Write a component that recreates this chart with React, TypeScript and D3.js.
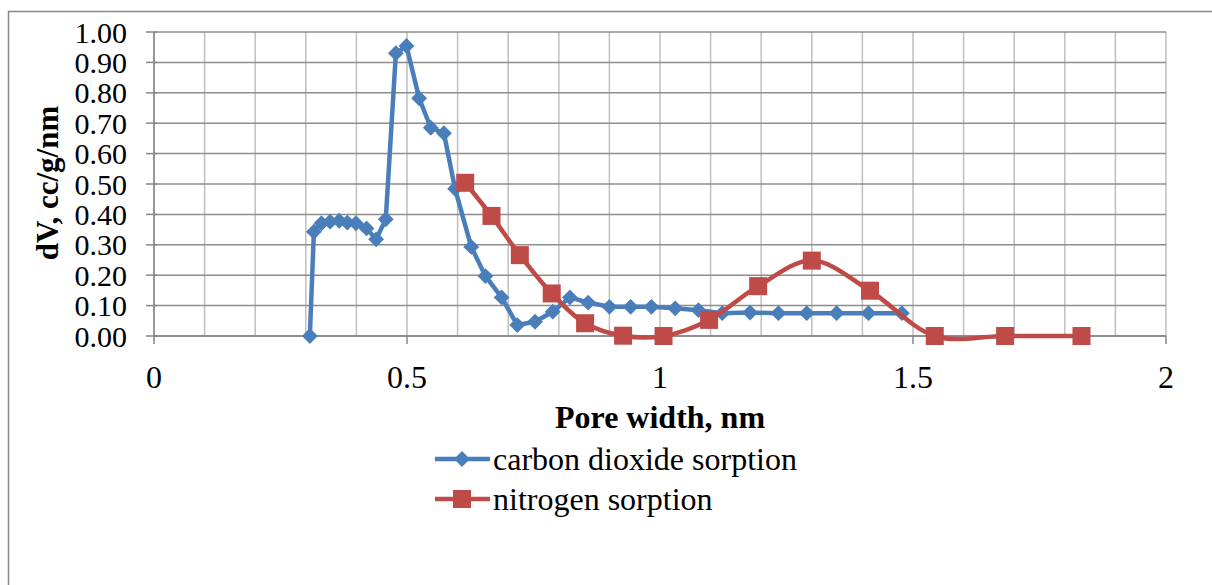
import React from 'react';
import * as d3 from 'd3';

// pore width (nm) and dV (cc/g/nm)
const co2Width = [0.308, 0.316, 0.331, 0.348, 0.366, 0.382, 0.399, 0.420, 0.439, 0.458, 0.478, 0.499,
  0.524, 0.547, 0.573, 0.595, 0.627, 0.655, 0.687, 0.718, 0.753, 0.788, 0.822, 0.858, 0.900, 0.942,
  0.983, 1.030, 1.076, 1.123, 1.178, 1.234, 1.290, 1.349, 1.412, 1.478];
const co2Dv = [0, 0.343, 0.371, 0.376, 0.379, 0.373, 0.371, 0.354, 0.318, 0.384, 0.930, 0.954,
  0.782, 0.685, 0.667, 0.484, 0.293, 0.197, 0.127, 0.036, 0.047, 0.080, 0.127, 0.110, 0.096, 0.096,
  0.096, 0.091, 0.085, 0.075, 0.077, 0.075, 0.075, 0.075, 0.075, 0.075];

const n2Width = [0.615, 0.667, 0.723, 0.786, 0.852, 0.927, 1.007, 1.097, 1.194, 1.300, 1.415, 1.543, 1.682, 1.833];
const n2Dv = [0.504, 0.395, 0.266, 0.140, 0.042, 0.001, 0, 0.053, 0.164, 0.248, 0.149, 0, 0, 0];

const xTicks = [0, 0.5, 1, 1.5, 2];
const yTicks = d3.range(0, 1.0001, 0.1);
const seriesNames = ['carbon dioxide sorption', 'nitrogen sorption'];

const BLUE = '#4A7EBB';
const RED = '#BE4B48';
const FONT = '"Liberation Serif", "Times New Roman", serif';

export default function App() {
  const width = 1212;
  const height = 585;
  const left = 154, right = 1166, top = 32, bottom = 336;

  const x = d3.scaleLinear().domain([0, 2]).range([left, right]);
  const y = d3.scaleLinear().domain([0, 1]).range([bottom, top]);

  const co2 = co2Width.map((w, i) => [w, co2Dv[i]] as [number, number]);
  const n2 = n2Width.map((w, i) => [w, n2Dv[i]] as [number, number]);

  const blueLine = d3.line<[number, number]>().x(d => x(d[0])).y(d => y(d[1]));
  const redLine = d3.line<[number, number]>().x(d => x(d[0])).y(d => y(d[1]))
    .curve(d3.curveCatmullRom.alpha(0.5));

  const diamond = d3.symbol().type(d3.symbolDiamond2).size(160)();
  const sq = 18;

  const minorX = d3.range(0, 2.0001, 0.1);

  return (
    <svg width={width} height={height} style={{ position: 'absolute', left: 0, top: 0 }}
      fontFamily={FONT}>
      <rect x={0} y={0} width={width} height={height} fill="#fff" />
      {/* outer chart border */}
      <rect x={8.5} y={11.5} width={width + 10} height={height + 10} fill="none" stroke="#868686" strokeWidth={1.5} />

      {/* gridlines */}
      {minorX.map((v, i) => (
        <line key={'vx' + i} x1={x(v)} x2={x(v)} y1={top} y2={bottom} stroke="#BFBFBF" strokeWidth={1.5} />
      ))}
      {yTicks.map((v, i) => (
        <line key={'hy' + i} x1={left} x2={right} y1={y(v)} y2={y(v)} stroke="#8C8C8C" strokeWidth={1.5} />
      ))}

      {/* axes */}
      <line x1={left} x2={left} y1={top} y2={bottom} stroke="#868686" strokeWidth={1.5} />
      <line x1={left} x2={right} y1={bottom} y2={bottom} stroke="#868686" strokeWidth={1.5} />
      {yTicks.map((v, i) => (
        <line key={'yt' + i} x1={left - 8} x2={left + 3} y1={y(v)} y2={y(v)} stroke="#868686" strokeWidth={1.5} />
      ))}
      {xTicks.map((v, i) => (
        <line key={'xt' + i} x1={x(v)} x2={x(v)} y1={bottom} y2={bottom + 8} stroke="#868686" strokeWidth={1.5} />
      ))}

      {yTicks.map((v, i) => (
        <text key={'yl' + i} x={127} y={y(v)} dy="0.35em" textAnchor="end" fontSize={30}>
          {d3.format('.2f')(v)}
        </text>
      ))}
      {xTicks.map((v, i) => (
        <text key={'xl' + i} x={x(v)} y={388} textAnchor="middle" fontSize={32}>
          {String(v)}
        </text>
      ))}

      <text x={660} y={428} textAnchor="middle" fontSize={32} fontWeight="bold">Pore width, nm</text>
      <text transform="translate(58,183) rotate(-90)" textAnchor="middle" fontSize={31} fontWeight="bold">
        dV, cc/g/nm
      </text>

      {/* series */}
      <path d={blueLine(co2) || ''} fill="none" stroke={BLUE} strokeWidth={4.5} strokeLinejoin="round" />
      {co2.map((d, i) => (
        <path key={'cm' + i} d={diamond || ''} transform={`translate(${x(d[0])},${y(d[1])})`} fill={BLUE} />
      ))}
      <path d={redLine(n2) || ''} fill="none" stroke={RED} strokeWidth={4.5} strokeLinejoin="round" />
      {n2.map((d, i) => (
        <rect key={'nm' + i} x={x(d[0]) - sq / 2} y={y(d[1]) - sq / 2} width={sq} height={sq} fill={RED} />
      ))}

      {/* legend */}
      <g>
        <line x1={435} x2={490} y1={459} y2={459} stroke={BLUE} strokeWidth={4.5} />
        <path d={diamond || ''} transform="translate(462,459)" fill={BLUE} />
        <text x={493} y={459} dy="0.35em" fontSize={32}>{seriesNames[0]}</text>
        <line x1={435} x2={490} y1={499} y2={499} stroke={RED} strokeWidth={4.5} />
        <rect x={462 - sq / 2} y={499 - sq / 2} width={sq} height={sq} fill={RED} />
        <text x={493} y={499} dy="0.35em" fontSize={32}>{seriesNames[1]}</text>
      </g>
    </svg>
  );
}
